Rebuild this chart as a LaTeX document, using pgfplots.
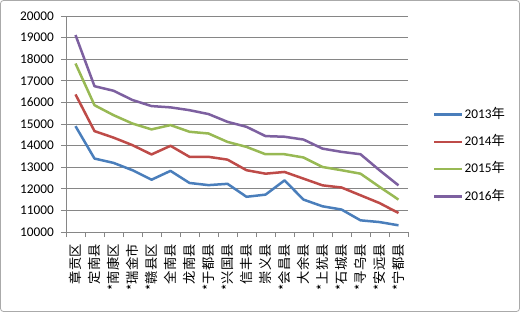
\documentclass[border=0pt]{standalone}
\usepackage{fontspec}
\setmainfont{Carlito}
\newfontfamily\cjk{Noto Sans CJK SC}
\usepackage{pgfplots}
\pgfplotsset{compat=1.18}
\definecolor{c13}{HTML}{4A7EBB}
\definecolor{c14}{HTML}{BE4B48}
\definecolor{c15}{HTML}{98B954}
\definecolor{c16}{HTML}{7D60A0}
\definecolor{gridc}{HTML}{868686}
\begin{document}
\fontsize{13.3bp}{16bp}\selectfont
\begin{tikzpicture}
\useasboundingbox (0,0) rectangle (520bp,312bp);
\draw[gridc!70, line width=0.8bp, rounded corners=3bp] (0.5bp,0.5bp) rectangle (519.5bp,311.5bp);
\begin{axis}[
  at={(66bp,80bp)}, anchor=south west,
  scale only axis, width=342bp, height=216bp,
  xmin=0.5, xmax=18.5, ymin=10000, ymax=20000,
  scaled y ticks=false,
  ytick={10000,11000,...,20000},
  xtick={0.5,1.5,...,18.5},
  xticklabels={},
  extra x ticks={1,...,18},
  extra x tick labels={章贡区,定南县,*南康区,*瑞金市,*赣县区,全南县,龙南县,*于都县,*兴国县,信丰县,崇义县,*会昌县,大余县,*上犹县,*石城县,*寻乌县,*安远县,*宁都县},
  extra x tick style={major tick length=0pt, tick style={draw=none},
    xticklabel style={rotate=90, anchor=east, font=\cjk\fontsize{13.3bp}{16bp}\selectfont, inner sep=0bp, xshift=-12bp}},
  major tick length=5bp,
  tick align=outside,
  tick style={gridc, line width=0.8bp},
  axis x line*=bottom, axis y line*=left,
  axis line style={gridc, line width=0.8bp, -},
  ymajorgrids, major grid style={gridc, line width=0.8bp},
  /pgf/number format/assume math mode=true,
  /pgf/number format/1000 sep={},
  yticklabel style={font=\fontsize{13.3bp}{16bp}\selectfont, inner sep=0bp, xshift=-7bp},
  every tick label/.append style={text=black},
  legend cell align=left,
  legend style={draw=none, fill=none, at={(1.064,0.354)}, anchor=west,
    font=\fontsize{13.3bp}{16bp}\selectfont,
    nodes={inner sep=1bp, text height=9.5bp, text depth=2bp},
    row sep=13.8bp},
  legend image code/.code={\draw[#1] (0bp,0bp) -- (28bp,0bp);},
  every axis plot/.append style={line width=2.5bp, line join=round},
]
\addplot[c13] coordinates {(1,14900)(2,13400)(3,13200)(4,12860)(5,12420)(6,12830)(7,12270)(8,12170)(9,12230)(10,11630)(11,11730)(12,12390)(13,11500)(14,11190)(15,11040)(16,10540)(17,10460)(18,10310)};
\addlegendentry{2013{\cjk 年}}
\addplot[c14] coordinates {(1,16370)(2,14670)(3,14370)(4,14020)(5,13590)(6,13990)(7,13480)(8,13480)(9,13350)(10,12860)(11,12700)(12,12780)(13,12470)(14,12160)(15,12060)(16,11700)(17,11340)(18,10880)};
\addlegendentry{2014{\cjk 年}}
\addplot[c15] coordinates {(1,17800)(2,15870)(3,15410)(4,15020)(5,14750)(6,14950)(7,14640)(8,14560)(9,14170)(10,13940)(11,13600)(12,13600)(13,13450)(14,13010)(15,12860)(16,12700)(17,12090)(18,11500)};
\addlegendentry{2015{\cjk 年}}
\addplot[c16] coordinates {(1,19120)(2,16750)(3,16540)(4,16110)(5,15830)(6,15770)(7,15640)(8,15460)(9,15100)(10,14870)(11,14440)(12,14410)(13,14280)(14,13860)(15,13710)(16,13600)(17,12860)(18,12160)};
\addlegendentry{2016{\cjk 年}}
\end{axis}
\end{tikzpicture}
\end{document}
